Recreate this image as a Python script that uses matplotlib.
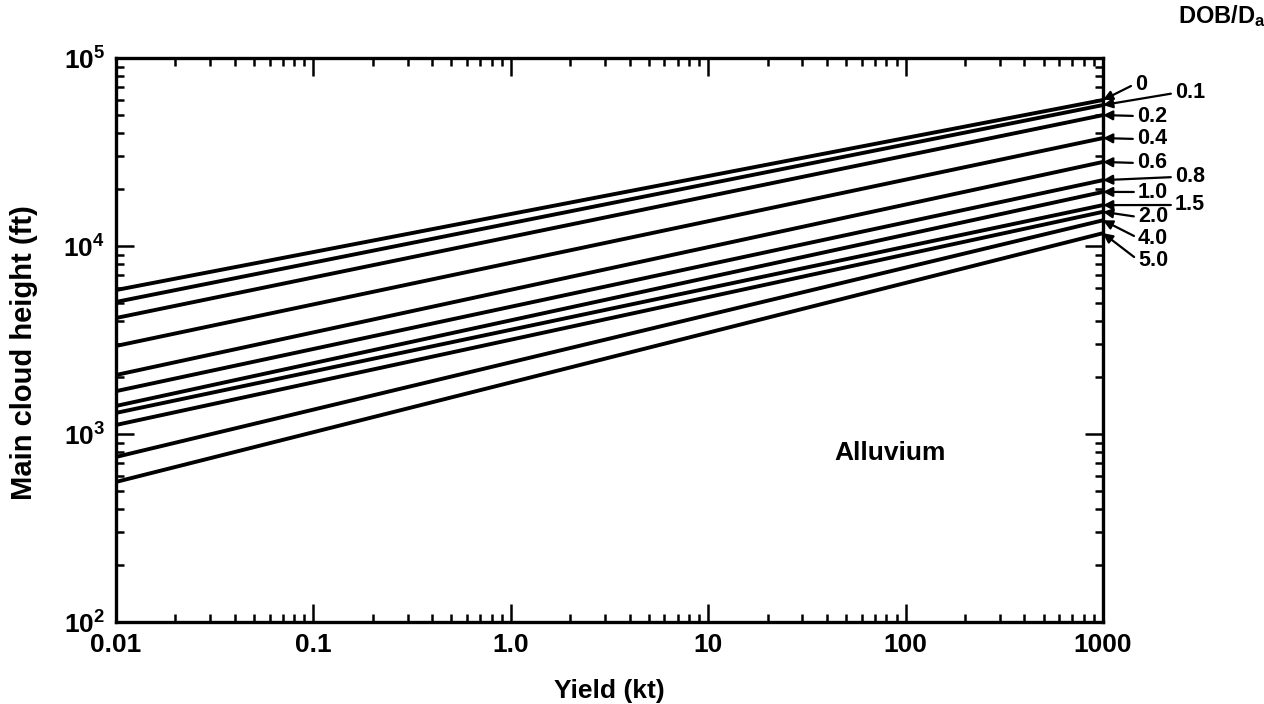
import numpy as np
import matplotlib
matplotlib.use("Agg")
import matplotlib.pyplot as plt

plt.rcParams['font.family'] = ['Liberation Sans', 'DejaVu Sans']
plt.rcParams['font.weight'] = 'bold'
plt.rcParams['mathtext.fontset'] = 'custom'
plt.rcParams['mathtext.rm'] = 'Liberation Sans:bold'
plt.rcParams['mathtext.bf'] = 'Liberation Sans:bold'
plt.rcParams['mathtext.default'] = 'bf'

# yield range (kt)
yield_ends = [0.01, 1000]

# depth of burst / apparent crater depth, one line each
dob_labels = ['0', '0.1', '0.2', '0.4', '0.6', '0.8', '1.0', '1.5', '2.0', '4.0', '5.0']

# main cloud height (ft) read at 0.01 kt and at 1000 kt
height_low = [5830, 5040, 4140, 2940, 2060, 1690, 1410, 1295, 1117, 755, 556]
height_high = [59800, 56200, 49700, 37500, 28000, 22400, 19400, 16500, 15200, 13700, 11700]

# label placement (pixel positions in the 1264x704 figure)
label_px = [(1135, 84), (1175, 93), (1137, 116), (1137, 139), (1137, 163), (1175, 177),
            (1138, 192), (1175, 205), (1138, 217), (1138, 238), (1138, 260)]

xticks = [0.01, 0.1, 1.0, 10, 100, 1000]
xticklabels = ['0.01', '0.1', '1.0', '10', '100', '1000']
yticks = [1e2, 1e3, 1e4, 1e5]
yticklabels = [r'$10^2$', r'$10^3$', r'$10^4$', r'$10^5$']

W, H = 1264, 704
fig = plt.figure(figsize=(W / 100, H / 100), dpi=100)
L, R, T, B = 116, 1103, 58, 622
ax = fig.add_axes([L / W, 1 - B / H, (R - L) / W, (B - T) / H])

for lo, hi in zip(height_low, height_high):
    ax.plot(yield_ends, [lo, hi], color='k', lw=2.8, solid_capstyle='butt')

ax.set_xscale('log')
ax.set_yscale('log')
ax.set_xlim(0.01, 1000)
ax.set_ylim(100, 1e5)

ax.set_xticks(xticks)
ax.set_xticklabels(xticklabels, fontsize=19, fontweight='bold')
ax.set_yticks(yticks)
ax.set_yticklabels(yticklabels, fontsize=19)

ax.tick_params(which='both', direction='in', top=True, right=True, width=1.8, colors='k')
ax.tick_params(which='major', length=13, pad=8)
ax.tick_params(which='minor', length=6)
for s in ax.spines.values():
    s.set_linewidth(2.4)

ax.set_xlabel('Yield (kt)', fontsize=19, fontweight='bold', labelpad=16)
ax.set_ylabel('Main cloud height (ft)', fontsize=21, fontweight='bold')
ax.yaxis.set_label_coords(-0.079, 0.478)

# curve labels with leader arrows to the line ends
for lab, hi, (px, py) in zip(dob_labels, height_high, label_px):
    fx = (px - L) / (R - L)
    fy = (B - py) / (B - T)
    ax.annotate(lab, xy=(1000, hi), xycoords='data',
                xytext=(fx, fy), textcoords='axes fraction',
                ha='left', va='center', fontsize=15.5, fontweight='bold',
                annotation_clip=False,
                arrowprops=dict(arrowstyle='-|>', color='k', lw=1.6,
                                mutation_scale=14, shrinkA=1, shrinkB=0,
                                relpos=(0, 0.5)))

fig.text(1222 / W, 1 - 16 / H, r'DOB/D$_{a}$', fontsize=17, fontweight='bold',
         ha='center', va='center')
ax.text(890 / W, 1 - 453 / H, 'Alluvium', transform=fig.transFigure,
        fontsize=19, fontweight='bold', ha='center', va='center')

fig.savefig('out.png', dpi=100)
